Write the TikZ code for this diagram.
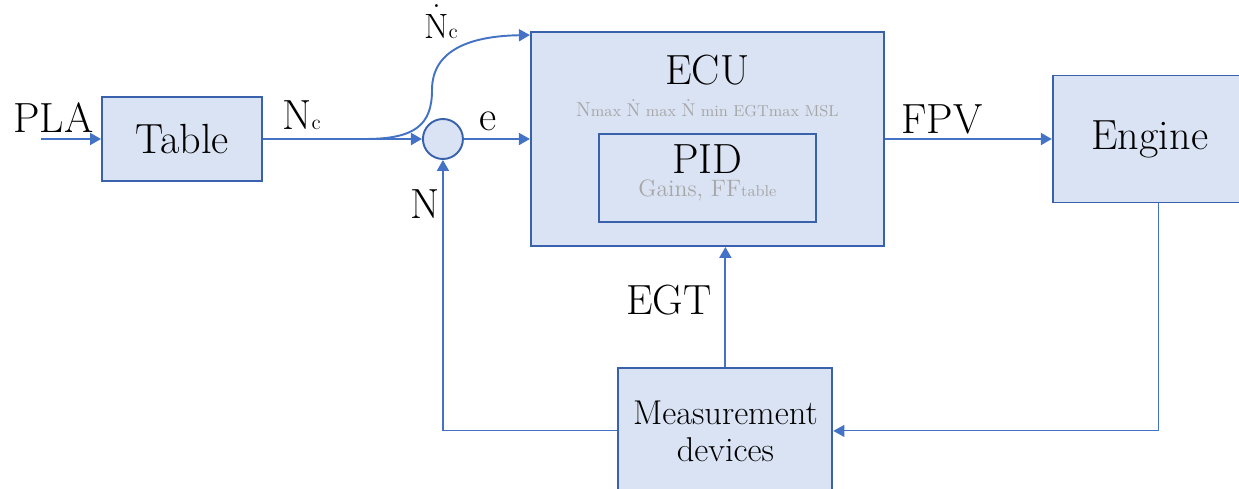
\documentclass[tikz,border=0pt]{standalone}
\usepackage{xcolor}
\usepackage{tikz}
\usetikzlibrary{arrows.meta,positioning}
\definecolor{boxfill}{HTML}{DAE3F3}
\definecolor{boxline}{HTML}{3A62AC}
\definecolor{wireblue}{HTML}{4472C4}
\definecolor{paramgray}{HTML}{A6A6A6}
% N with a dot above, raised by #1
\newcommand{\ndot}[1]{\ooalign{N\cr\hidewidth\smash{\raisebox{#1}{.}}\hidewidth\cr}}

\begin{document}
\begin{tikzpicture}[
    box/.style={draw=boxline, fill=boxfill, line width=1.1pt, align=center, inner sep=0pt, font=\fontsize{24}{28}\selectfont},
    sumnode/.style={circle, draw=boxline, fill=boxfill, line width=1.1pt, minimum size=0.8cm, inner sep=0pt},
    lbl/.style={inner sep=0pt, font=\fontsize{24}{28}\selectfont},
    param/.style={inner sep=0pt, text=paramgray},
    arrow/.style={-{Triangle[length=0.22cm, width=0.24cm]}, line width=1.1pt, draw=wireblue},
    thinarrow/.style={-{Triangle[length=0.22cm, width=0.24cm]}, line width=0.6pt, draw=wireblue},
    thinwire/.style={line width=0.6pt, draw=wireblue}
]
\useasboundingbox (0,0) rectangle (24.78,-9.76);

% ===== FORWARD PATH =====
\node[box, minimum width=3.2cm, minimum height=1.68cm] (table) at (3.64,-2.78) {Table};
\node[sumnode, right=3.18cm of table] (sum) {};
\node[box, right=1.32cm of sum, minimum width=7.06cm, minimum height=4.28cm] (ecu) {};
\node[box, minimum width=4.34cm, minimum height=1.76cm] (pid) at ([yshift=-0.78cm]ecu.center) {};
\node[box, right=3.34cm of ecu, minimum width=3.88cm, minimum height=2.54cm] (engine) {Engine};
\node[box, below=2.4cm of ecu, xshift=0.36cm, minimum width=4.28cm, minimum height=2.52cm, font=\fontsize{19.6}{21}\selectfont] (meas) {Measurement\\devices};

\node[lbl, anchor=base] (ecutitle) at ([yshift=-1.06cm]ecu.north) {ECU};
\node[param, anchor=base, font=\fontsize{9}{11}\selectfont] (ecuparams) at ([yshift=-1.7cm]ecu.north) {{\fontsize{11.5}{14}\selectfont N}max {\fontsize{10.5}{12}\selectfont\ndot{0.78em}} max {\fontsize{10.5}{12}\selectfont\ndot{0.78em}} min EGTmax MSL};
\node[lbl, anchor=base] (pidtitle) at ([yshift=-0.8cm]pid.north) {PID};
\node[param, anchor=base] (pidgains) at ([yshift=-1.26cm]pid.north) {\fontsize{13.5}{16}\selectfont Gains, FF{\fontsize{9}{11}\selectfont table}};

% ===== CONNECTORS =====
\coordinate (plain) at (0.82,-2.78);
\coordinate (split) at (7.3,-2.78);
\draw[arrow] (plain) -- (table);
\draw[arrow] (table) -- (sum);
\draw[arrow] (split) .. controls (8.3,-2.78) and (8.64,-2.5) .. (8.64,-1.8) .. controls (8.64,-0.95) and (9.5,-0.72) .. ([yshift=-0.08cm]ecu.north west);
\draw[arrow] (sum) -- (ecu);
\draw[arrow] (ecu) -- (engine);
\draw[thinarrow] ([xshift=0.18cm]engine.south) |- (meas.east);
\draw[arrow] (meas) -- (meas |- ecu.south);
\coordinate (fbcorner) at (sum |- meas.west);
\draw[thinwire] (meas.west) -- (fbcorner);
\draw[arrow] (fbcorner) -- (sum);

% ===== LABELS =====
\node[lbl, anchor=base west] (plalabel) at (0.26,-2.64) {PLA};
\node[lbl, anchor=base west] (nclabel) at (5.64,-2.58) {N{\fontsize{12}{14}\selectfont c}};
\node[lbl, anchor=base west, font=\fontsize{20}{24}\selectfont] (ncdotlabel) at (8.48,-0.78) {\ndot{0.9em}{\fontsize{12}{14}\selectfont c}};
\node[lbl, anchor=base west] (elabel) at (9.58,-2.6) {e};
\node[lbl, anchor=base west] (nlabel) at (8.2,-4.36) {N};
\node[lbl, anchor=base west] (fpvlabel) at (18.02,-2.66) {FPV};
\node[lbl, anchor=base west] (egtlabel) at (12.52,-6.28) {EGT};

\end{tikzpicture}
\end{document}
